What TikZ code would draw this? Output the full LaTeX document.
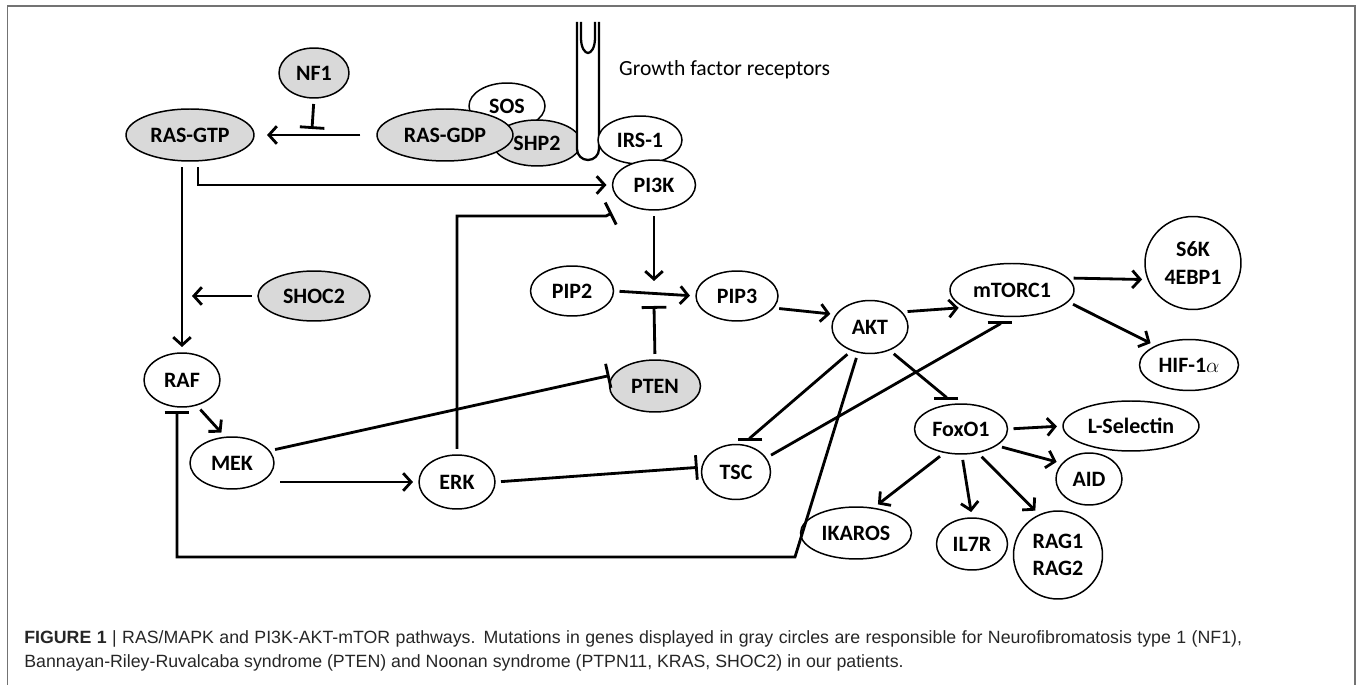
\documentclass[tikz,border=0pt]{standalone}
\usepackage{fontspec}
\setmainfont{Carlito}
\newfontfamily\capfont{Liberation Sans}
\usepackage{tikz}
\usetikzlibrary{positioning,shapes.geometric,arrows.meta}

\begin{document}
\begin{tikzpicture}[x=0.02cm, y=0.02cm,
    gene/.style={ellipse, draw, line width=0.85pt, fill=white, inner sep=0pt, align=center, font=\bfseries\fontsize{12.5}{15.5}\selectfont},
    mutated/.style={gene, fill=black!15},
    arrow/.style={-{Straight Barb[length=4.5pt,width=10pt]}, line width=1.6pt, shorten >=3pt, shorten <=3pt},
    inhib/.style={-{Bar[width=14pt]}, line width=1.6pt, shorten >=2pt, shorten <=3pt},
    receptor/.style={line width=1.3pt},
    frame/.style={draw=black!55, line width=1pt}]

    \useasboundingbox (0,0) rectangle (1357,-685);
    \draw[frame] (7.5,-685) -- (7.5,-6) -- (1355,-6) -- (1355,-685);

    % receptor complex
    \node[gene, minimum width=1.52cm, minimum height=0.92cm] (SOS) at (507,-106) {SOS};
    \node[mutated, minimum width=1.76cm, minimum height=0.92cm] (SHP2) at (537,-143) {SHP2};
    \node[mutated, minimum width=2.72cm, minimum height=1.04cm] (RASGDP) at (445,-135) {RAS-GDP};
    \draw[receptor, fill=white] (577,-22) -- (577,-149) arc[start angle=180, end angle=360, radius=11] -- (599,-22);
    \draw[receptor] (581,-22) -- (581,-38) .. controls (581,-48) and (585,-53) .. (588,-53) .. controls (591,-53) and (595,-48) .. (595,-38) -- (595,-22);
    \node[anchor=west, font=\fontsize{12.3}{14}\selectfont] (gfr) at (613,-70) {Growth factor receptors};
    \node[gene, minimum width=1.68cm, minimum height=0.96cm] (IRS1) at (640,-140) {IRS-1};
    \node[gene, minimum width=1.66cm, minimum height=1.0cm] (PI3K) at (654,-185) {PI3K};

    % RAS/MAPK side
    \node[mutated, minimum width=1.4cm, minimum height=1.0cm] (NF1) at (314,-73) {NF1};
    \node[mutated, minimum width=2.56cm, minimum height=1.04cm] (RASGTP) at (190,-135) {RAS-GTP};
    \node[mutated, minimum width=2.24cm, minimum height=1.0cm] (SHOC2) at (314,-296) {SHOC2};
    \node[gene, minimum width=1.52cm, minimum height=1.08cm] (RAF) at (182,-380) {RAF};
    \node[gene, minimum width=1.68cm, minimum height=1.04cm] (MEK) at (232,-463) {MEK};
    \node[gene, minimum width=1.52cm, minimum height=1.08cm] (ERK) at (457,-482) {ERK};

    % PI3K-AKT-mTOR side
    \node[gene, minimum width=1.66cm, minimum height=1.0cm] (PIP2) at (572,-291) {PIP2};
    \node[gene, minimum width=1.64cm, minimum height=1.0cm] (PIP3) at (737,-296) {PIP3};
    \node[mutated, minimum width=1.82cm, minimum height=1.04cm] (PTEN) at (655,-386) {PTEN};
    \node[gene, minimum width=1.52cm, minimum height=1.06cm] (AKT) at (870,-327) {AKT};
    \node[gene, minimum width=2.48cm, minimum height=1.06cm] (mTORC1) at (1012,-290) {mTORC1};
    \node[gene, minimum width=1.92cm, minimum height=1.86cm] (S6K) at (1193,-263) {S6K\\4EBP1};
    \node[gene, minimum width=1.98cm, minimum height=1.02cm] (HIF) at (1189,-365) {HIF-1$\alpha$};
    \node[gene, minimum width=1.38cm, minimum height=1.1cm] (TSC) at (736,-472) {TSC};

    % FoxO1 targets
    \node[gene, minimum width=1.86cm, minimum height=1.0cm] (FoxO1) at (961,-429) {FoxO1};
    \node[gene, minimum width=2.72cm, minimum height=1.0cm] (LSel) at (1131,-426) {L-Selectin};
    \node[gene, minimum width=1.32cm, minimum height=1.04cm] (AID) at (1089,-479) {AID};
    \node[gene, minimum width=2.22cm, minimum height=1.04cm] (IKAROS) at (856,-533) {IKAROS};
    \node[gene, minimum width=1.42cm, minimum height=1.04cm] (IL7R) at (972,-544) {IL7R};
    \node[gene, minimum width=1.78cm, minimum height=1.76cm] (RAG) at (1058,-555) {RAG1\\RAG2};

    % free ends
    \coordinate (nfhit) at (312,-129);
    \coordinate (shochit) at (192,-296);
    \coordinate (pi3khit) at (654,-281);
    \coordinate (ptenhit) at (654,-306);
    \coordinate (erkbend) at (606,-216);
    \coordinate (pi3kbar) at (612,-213);
    \coordinate (aktbend) at (795,-557);
    \coordinate (tschit) at (750,-441);
    \coordinate (mtorhit) at (1000,-321);
    \coordinate (foxohit) at (946,-400);

    \draw[arrow, shorten <=9pt, shorten >=7pt] (RASGDP.west) -- (RASGTP.east);
    \draw[inhib, shorten >=0pt] (NF1.south) -- (nfhit);
    \draw[arrow] ([xshift=0.16cm]RASGTP.south) |- (PI3K.west);
    \draw[arrow] (RASGTP.south -| RAF.north) -- (RAF.north);
    \draw[arrow, shorten >=0pt] (SHOC2.west) -- (shochit);
    \draw[arrow, shorten >=0pt] (PI3K.south) -- (pi3khit);
    \draw[arrow] (PIP2.east) -- (PIP3.west);
    \draw[inhib, shorten >=0pt] (PTEN.north) -- (ptenhit);
    \draw[inhib, shorten >=0pt] (ERK.north) |- (erkbend) -- (pi3kbar);
    \draw[inhib] (MEK.18) -- (PTEN.165);
    \draw[arrow] (MEK.east |- ERK.west) -- (ERK.west);
    \draw[arrow] (RAF.-60) -- (MEK.105);
    \draw[inhib] (AKT.245) -- (aktbend) -| ([xshift=-0.1cm]RAF.south);
    \draw[inhib, shorten >=0pt] (AKT.232) -- ([yshift=0.06cm]tschit) -- (tschit);
    \draw[inhib] (ERK.east) -- (TSC.172);
    \draw[inhib, shorten >=0pt] (TSC.25) -- ([yshift=-0.06cm]mtorhit) -- (mtorhit);
    \draw[inhib, shorten >=0pt] (AKT.-50) -- ([yshift=0.06cm]foxohit) -- (foxohit);
    \draw[arrow] (PIP3.-18) -- (AKT.160);
    \draw[arrow] (AKT.25) -- (mTORC1.200);
    \draw[arrow] (mTORC1.12) -- (S6K.200);
    \draw[arrow] (mTORC1.-12) -- (HIF.150);
    \draw[arrow] (FoxO1.east) -- (LSel.west);
    \draw[arrow] (FoxO1.-25) -- (AID.150);
    \draw[arrow] (FoxO1.235) -- (IKAROS.55);
    \draw[arrow] (FoxO1.272) -- (IL7R.north);
    \draw[arrow] (FoxO1.-55) -- (RAG.115);

    % caption
    \node[anchor=base west, text width=24.36cm, align=justify, inner sep=0pt, text=black!85, font=\capfont\fontsize{10.1}{13.1}\selectfont] (caption) at (24,-644)
        {\textbf{FIGURE 1} | RAS/MAPK and PI3K-AKT-mTOR pathways. Mutations in genes displayed in gray circles are responsible for Neurofibromatosis type 1 (NF1),\linebreak
         Bannayan-Riley-Ruvalcaba syndrome (PTEN) and Noonan syndrome (PTPN11, KRAS, SHOC2) in our patients.};
\end{tikzpicture}
\end{document}
